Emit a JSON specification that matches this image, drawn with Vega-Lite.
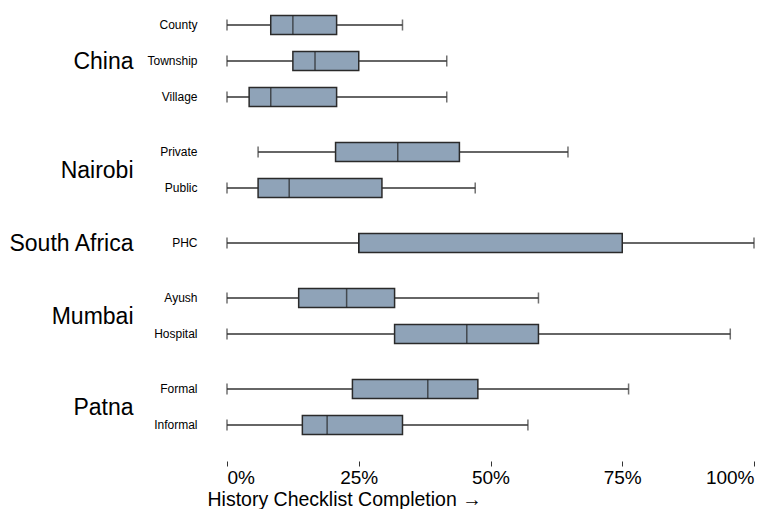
{
  "$schema": "https://vega.github.io/schema/vega-lite/v6.json",
  "padding": {"left": 7, "top": 7, "right": 5, "bottom": 0},
  "background": "white",
  "spacing": 19,
  "config": {
    "font": "Liberation Sans",
    "view": {"stroke": null},
    "axisY": {
      "domain": false,
      "ticks": false,
      "labelPadding": 30,
      "labelFontSize": 12,
      "labelColor": "black",
      "labelFont": "Liberation Sans",
      "titleAngle": 0,
      "titleAlign": "right",
      "titleBaseline": "middle",
      "titleX": -94,
      "titleFontSize": 23,
      "titleFontWeight": "normal",
      "titleColor": "black",
      "titleFont": "Liberation Sans"
    },
    "tick": {"color": "#333333", "thickness": 1.5},
    "rule": {"color": "#333333", "strokeWidth": 1.5},
    "bar": {"fill": "#8FA3B8", "stroke": "#2a2a2a", "strokeWidth": 1.5}
  },
  "datasets": {
    "boxes": [
      {"group": "China", "category": "County", "min": 0, "q1": 8.3, "median": 12.5, "q3": 20.8, "max": 33.3},
      {"group": "China", "category": "Township", "min": 0, "q1": 12.5, "median": 16.7, "q3": 25.0, "max": 41.7},
      {"group": "China", "category": "Village", "min": 0, "q1": 4.2, "median": 8.3, "q3": 20.8, "max": 41.7},
      {"group": "Nairobi", "category": "Private", "min": 5.9, "q1": 20.6, "median": 32.4, "q3": 44.1, "max": 64.7},
      {"group": "Nairobi", "category": "Public", "min": 0, "q1": 5.9, "median": 11.8, "q3": 29.4, "max": 47.1},
      {"group": "South Africa", "category": "PHC", "min": 0, "q1": 25.0, "median": 25.0, "q3": 75.0, "max": 100},
      {"group": "Mumbai", "category": "Ayush", "min": 0, "q1": 13.6, "median": 22.7, "q3": 31.8, "max": 59.1},
      {"group": "Mumbai", "category": "Hospital", "min": 0, "q1": 31.8, "median": 45.5, "q3": 59.1, "max": 95.5},
      {"group": "Patna", "category": "Formal", "min": 0, "q1": 23.8, "median": 38.1, "q3": 47.6, "max": 76.2},
      {"group": "Patna", "category": "Informal", "min": 0, "q1": 14.3, "median": 19.0, "q3": 33.3, "max": 57.1}
    ]
  },
  "data": {"name": "boxes"},
  "vconcat": [
    {
      "width": 527, "height": 108,
      "transform": [{"filter": "datum.group === 'China'"}],
      "encoding": {
        "y": {"field": "category", "type": "nominal", "sort": null, "title": "China",
              "scale": {"type": "band", "paddingInner": 0, "paddingOuter": 0},
              "axis": {"titleY": 54}}
      },
      "layer": [
        {"mark": "rule", "encoding": {"x": {"field": "min", "type": "quantitative", "scale": {"domain": [0, 100], "nice": false}, "axis": null}, "x2": {"field": "max"}}},
        {"mark": {"type": "tick", "size": 11}, "encoding": {"x": {"field": "min", "type": "quantitative"}}},
        {"mark": {"type": "tick", "size": 11}, "encoding": {"x": {"field": "max", "type": "quantitative"}}},
        {"mark": {"type": "bar", "size": 19}, "encoding": {"x": {"field": "q1", "type": "quantitative"}, "x2": {"field": "q3"}}},
        {"mark": {"type": "tick", "size": 19, "color": "#222222"}, "encoding": {"x": {"field": "median", "type": "quantitative"}}}
      ]
    },
    {
      "width": 527, "height": 72,
      "transform": [{"filter": "datum.group === 'Nairobi'"}],
      "encoding": {
        "y": {"field": "category", "type": "nominal", "sort": null, "title": "Nairobi",
              "scale": {"type": "band", "paddingInner": 0, "paddingOuter": 0},
              "axis": {"titleY": 36}}
      },
      "layer": [
        {"mark": "rule", "encoding": {"x": {"field": "min", "type": "quantitative", "scale": {"domain": [0, 100], "nice": false}, "axis": null}, "x2": {"field": "max"}}},
        {"mark": {"type": "tick", "size": 11}, "encoding": {"x": {"field": "min", "type": "quantitative"}}},
        {"mark": {"type": "tick", "size": 11}, "encoding": {"x": {"field": "max", "type": "quantitative"}}},
        {"mark": {"type": "bar", "size": 19}, "encoding": {"x": {"field": "q1", "type": "quantitative"}, "x2": {"field": "q3"}}},
        {"mark": {"type": "tick", "size": 19, "color": "#222222"}, "encoding": {"x": {"field": "median", "type": "quantitative"}}}
      ]
    },
    {
      "width": 527, "height": 36,
      "transform": [{"filter": "datum.group === 'South Africa'"}],
      "encoding": {
        "y": {"field": "category", "type": "nominal", "sort": null, "title": "South Africa",
              "scale": {"type": "band", "paddingInner": 0, "paddingOuter": 0},
              "axis": {"titleY": 18}}
      },
      "layer": [
        {"mark": "rule", "encoding": {"x": {"field": "min", "type": "quantitative", "scale": {"domain": [0, 100], "nice": false}, "axis": null}, "x2": {"field": "max"}}},
        {"mark": {"type": "tick", "size": 11}, "encoding": {"x": {"field": "min", "type": "quantitative"}}},
        {"mark": {"type": "tick", "size": 11}, "encoding": {"x": {"field": "max", "type": "quantitative"}}},
        {"mark": {"type": "bar", "size": 19}, "encoding": {"x": {"field": "q1", "type": "quantitative"}, "x2": {"field": "q3"}}},
        {"mark": {"type": "tick", "size": 19, "color": "#222222"}, "encoding": {"x": {"field": "median", "type": "quantitative"}}}
      ]
    },
    {
      "width": 527, "height": 72,
      "transform": [{"filter": "datum.group === 'Mumbai'"}],
      "encoding": {
        "y": {"field": "category", "type": "nominal", "sort": null, "title": "Mumbai",
              "scale": {"type": "band", "paddingInner": 0, "paddingOuter": 0},
              "axis": {"titleY": 36}}
      },
      "layer": [
        {"mark": "rule", "encoding": {"x": {"field": "min", "type": "quantitative", "scale": {"domain": [0, 100], "nice": false}, "axis": null}, "x2": {"field": "max"}}},
        {"mark": {"type": "tick", "size": 11}, "encoding": {"x": {"field": "min", "type": "quantitative"}}},
        {"mark": {"type": "tick", "size": 11}, "encoding": {"x": {"field": "max", "type": "quantitative"}}},
        {"mark": {"type": "bar", "size": 19}, "encoding": {"x": {"field": "q1", "type": "quantitative"}, "x2": {"field": "q3"}}},
        {"mark": {"type": "tick", "size": 19, "color": "#222222"}, "encoding": {"x": {"field": "median", "type": "quantitative"}}}
      ]
    },
    {
      "width": 527, "height": 72,
      "transform": [{"filter": "datum.group === 'Patna'"}],
      "encoding": {
        "y": {"field": "category", "type": "nominal", "sort": null, "title": "Patna",
              "scale": {"type": "band", "paddingInner": 0, "paddingOuter": 0},
              "axis": {"titleY": 36}}
      },
      "layer": [
        {"mark": "rule", "encoding": {"x": {"field": "min", "type": "quantitative", "scale": {"domain": [0, 100], "nice": false},
          "axis": {
            "title": "History Checklist Completion →",
            "titleFontSize": 19.5,
            "titleFontWeight": "normal",
            "titleColor": "black",
            "titleAnchor": "start",
            "titleAlign": "left",
            "titleX": -20,
            "titlePadding": 3,
            "values": [0, 25, 50, 75, 100],
            "labelExpr": "datum.value + '%'",
            "labelFontSize": 19,
            "labelColor": "black",
            "labelPadding": 2,
            "grid": false,
            "domain": false,
            "ticks": true,
            "tickSize": 5,
            "tickColor": "#333333",
            "offset": 18
          }}, "x2": {"field": "max"}}},
        {"mark": {"type": "tick", "size": 11}, "encoding": {"x": {"field": "min", "type": "quantitative"}}},
        {"mark": {"type": "tick", "size": 11}, "encoding": {"x": {"field": "max", "type": "quantitative"}}},
        {"mark": {"type": "bar", "size": 19}, "encoding": {"x": {"field": "q1", "type": "quantitative"}, "x2": {"field": "q3"}}},
        {"mark": {"type": "tick", "size": 19, "color": "#222222"}, "encoding": {"x": {"field": "median", "type": "quantitative"}}}
      ]
    }
  ]
}
